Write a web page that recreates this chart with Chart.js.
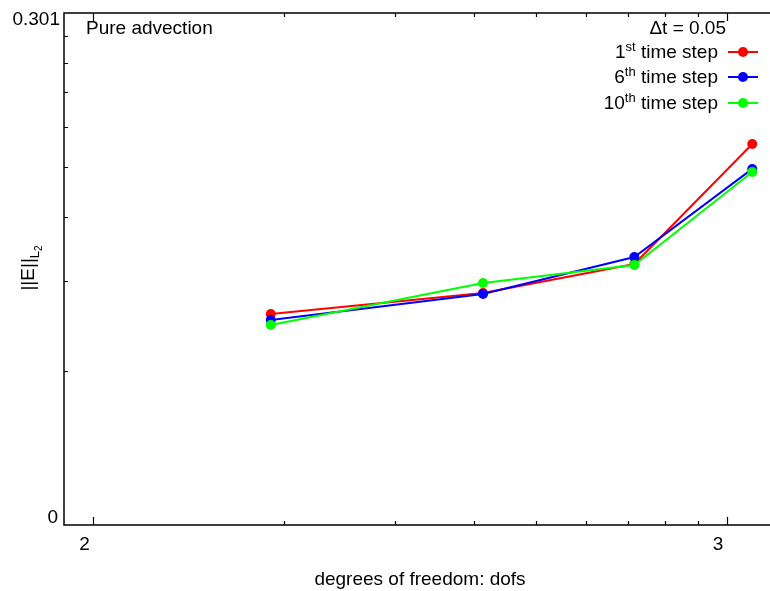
<!DOCTYPE html>
<html>
<head>
<meta charset="utf-8">
<title>Pure advection - L2 error vs dofs</title>
<script src="https://cdn.jsdelivr.net/npm/chart.js@4.4.1/dist/chart.umd.min.js"></script>
<style>
    html, body { margin: 0; padding: 0; background: #fff; }
    #wrap { width: 770px; height: 591px; }
</style>
</head>
<body>
<div id="wrap"><canvas id="errChart" width="770" height="591"></canvas></div>
<script>
// --- data (dofs on a log axis, L2 error on a log axis)
const dofs = [190.8, 412.7, 715.3, 1098];
const errStep1 = [2.583, 2.839, 3.234, 5.548];
const errStep6 = [2.514, 2.827, 3.337, 4.960];
const errStep10 = [2.458, 2.969, 3.219, 4.893];

// major ticks and the text printed next to them
const xTicks = [100, 1000];
const xTickLabels = ['2', '3'];
const yTicks = [1, 10];
const yTickLabels = ['0', '0.301'];

const seriesNames = [['1', 'st'], ['6', 'th'], ['10', 'th']];
const seriesColors = ['#ff0000', '#0000ff', '#00ff00'];

const FONT = '"Liberation Sans", Arial, sans-serif';
const FS = 19;   // main text size
const FS_SUP = 13;

function pts(ys) {
    return dofs.map((d, i) => ({ x: d, y: ys[i] }));
}

function mkSet(label, ys, color, order) {
    return {
        label: label,
        data: pts(ys),
        borderColor: color,
        backgroundColor: color,
        borderWidth: 2,
        pointRadius: 5,
        pointBorderWidth: 0,
        pointHoverRadius: 5,
        order: order,
        tension: 0
    };
}

// minor ticks 2..9 inside each decade
function minorTicks(min, max) {
    var out = [];
    var d = Math.pow(10, Math.floor(Math.log10(min)));
    for (; d < max; d *= 10) {
        for (var k = 2; k <= 9; k++) {
            var v = k * d;
            if (v > min && v < max) out.push(v);
        }
    }
    return out;
}

// gnuplot-ish frame: inward ticks, text drawn by hand (superscripts/subscripts)
const framePlugin = {
    id: 'frame',
    afterDraw(chart) {
        const ctx = chart.ctx;
        const a = chart.chartArea;
        const xs = chart.scales.x, ys = chart.scales.y;
        const W = chart.width;
        ctx.save();
        ctx.strokeStyle = '#000';
        ctx.lineWidth = 1.5;

        // border: left, top, bottom (right side runs off the canvas)
        ctx.beginPath();
        ctx.moveTo(W, a.top);
        ctx.lineTo(a.left, a.top);
        ctx.lineTo(a.left, a.bottom);
        ctx.lineTo(W, a.bottom);
        ctx.stroke();

        ctx.lineWidth = 1.2;
        ctx.beginPath();
        xTicks.forEach(v => {
            const px = Math.round(xs.getPixelForValue(v)) + 0.5;
            ctx.moveTo(px, a.bottom); ctx.lineTo(px, a.bottom - 8);
            ctx.moveTo(px, a.top); ctx.lineTo(px, a.top + 8);
        });
        minorTicks(xs.min, xs.max).forEach(v => {
            const px = Math.round(xs.getPixelForValue(v)) + 0.5;
            ctx.moveTo(px, a.bottom); ctx.lineTo(px, a.bottom - 4);
            ctx.moveTo(px, a.top); ctx.lineTo(px, a.top + 4);
        });
        minorTicks(ys.min, ys.max).forEach(v => {
            const py = Math.round(ys.getPixelForValue(v)) + 0.5;
            ctx.moveTo(a.left, py); ctx.lineTo(a.left + 4, py);
        });
        ctx.stroke();

        ctx.fillStyle = '#000';
        ctx.font = FS + 'px ' + FONT;
        ctx.textBaseline = 'middle';

        // tick labels
        ctx.textAlign = 'center';
        xTicks.forEach((v, i) => {
            ctx.fillText(xTickLabels[i], xs.getPixelForValue(v) - 8.5, a.bottom + 20);
        });
        ctx.textAlign = 'right';
        ctx.fillText(yTickLabels[0], a.left - 6, ys.getPixelForValue(yTicks[0]) - 7);
        ctx.fillText(yTickLabels[1], a.left - 4, ys.getPixelForValue(yTicks[1]) + 7);

        // axis titles
        ctx.textAlign = 'center';
        ctx.fillText('degrees of freedom: dofs', 420, 580);

        ctx.save();
        ctx.translate(29, 268);
        ctx.rotate(-Math.PI / 2);
        ctx.textAlign = 'left';
        const main = '||E||';
        ctx.font = FS + 'px ' + FONT;
        const wMain = ctx.measureText(main).width;
        ctx.font = FS_SUP + 'px ' + FONT;
        const wL = ctx.measureText('L').width;
        ctx.font = '10px ' + FONT;
        const w2 = ctx.measureText('2').width;
        let x0 = -(wMain + wL + w2) / 2;
        ctx.font = FS + 'px ' + FONT;
        ctx.fillText(main, x0, 0);
        ctx.font = FS_SUP + 'px ' + FONT;
        ctx.fillText('L', x0 + wMain, 6);
        ctx.font = '10px ' + FONT;
        ctx.fillText('2', x0 + wMain + wL, 10);
        ctx.restore();

        // plot title + legend
        ctx.font = FS + 'px ' + FONT;
        ctx.textAlign = 'left';
        ctx.fillText('Pure advection', 86, 29);
        ctx.textAlign = 'right';
        ctx.fillText('\u0394t = 0.05', 726, 29);

        const rowY = [53, 78, 104];
        seriesNames.forEach((nm, i) => {
            const y = rowY[i];
            ctx.font = FS + 'px ' + FONT;
            const rest = ' time step';
            const wRest = ctx.measureText(rest).width;
            const wNum = ctx.measureText(nm[0]).width;
            ctx.font = FS_SUP + 'px ' + FONT;
            const wSup = ctx.measureText(nm[1]).width;
            const right = 718;
            ctx.textAlign = 'left';
            ctx.font = FS + 'px ' + FONT;
            ctx.fillText(nm[0], right - wRest - wSup - wNum, y);
            ctx.font = FS_SUP + 'px ' + FONT;
            ctx.fillText(nm[1], right - wRest - wSup, y - 6);
            ctx.font = FS + 'px ' + FONT;
            ctx.fillText(rest, right - wRest, y);

            ctx.strokeStyle = seriesColors[i];
            ctx.fillStyle = seriesColors[i];
            ctx.lineWidth = 2;
            ctx.beginPath();
            ctx.moveTo(728, y - 1); ctx.lineTo(758, y - 1);
            ctx.stroke();
            ctx.beginPath();
            ctx.arc(743, y - 1, 5, 0, Math.PI * 2);
            ctx.fill();
            ctx.fillStyle = '#000';
        });
        ctx.restore();
    }
};

new Chart(document.getElementById('errChart'), {
    type: 'line',
    data: {
        datasets: [
            mkSet('1st time step', errStep1, seriesColors[0], 2),
            mkSet('6th time step', errStep6, seriesColors[1], 1),
            mkSet('10th time step', errStep10, seriesColors[2], 0)
        ]
    },
    options: {
        responsive: false,
        animation: false,
        events: [],
        layout: { padding: { left: 64, top: 13, right: 0, bottom: 66 } },
        plugins: {
            legend: { display: false },
            tooltip: { enabled: false }
        },
        scales: {
            x: { type: 'logarithmic', min: 90, max: 1150, display: false },
            y: { type: 'logarithmic', min: 1, max: 10, display: false }
        }
    },
    plugins: [framePlugin]
});
</script>
</body>
</html>
